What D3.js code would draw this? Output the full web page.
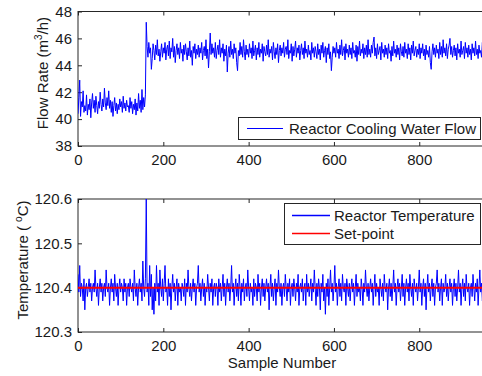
<!DOCTYPE html>
<html>
<head>
<meta charset="utf-8">
<script src="https://cdn.jsdelivr.net/npm/d3@7"></script>
<style>
  html, body { margin: 0; padding: 0; background: #fff; }
  svg { display: block; font-family: "Liberation Sans", Arial, Helvetica, sans-serif; }
  .axis text { font-size: 15px; fill: #1a1a1a; }
  .axis path, .axis line { stroke: #262626; }
</style>
</head>
<body>
<svg id="chart" width="482" height="376"></svg>
<script>
// Sampling interval of the stored series (sample number = index * sampleStep)
const sampleStep = 2;
const sampleRange = [0, 960];
const xTicks = [0, 200, 400, 600, 800];

// Reactor cooling water flow (m^3/h)
const coolingFlow = [
  40.4, 41.6, 42.9, 40.2, 41.3, 40.9, 42.1, 40.5, 41.0, 40.6,
  41.8, 40.3, 41.1, 40.7, 41.5, 40.1, 41.2, 41.9, 40.8, 41.4,
  40.5, 41.7, 41.0, 40.4, 41.3, 40.8, 42.0, 41.1, 40.6, 41.5,
  40.9, 42.3, 41.2, 40.7, 41.6, 41.0, 42.1, 40.8, 41.4, 40.5,
  41.3, 40.2, 41.0, 41.6, 40.6, 41.2, 40.4, 41.1, 40.7, 41.5,
  40.9, 41.3, 40.5, 41.7, 40.8, 41.2, 40.6, 41.4, 40.9, 41.0,
  40.5, 41.6, 40.8, 41.3, 40.4, 41.1, 40.7, 41.5, 40.3, 41.2,
  40.6, 41.9, 40.8, 41.4, 40.5, 42.2, 40.7, 41.6, 40.9, 41.8,
  47.2,
  45.4, 44.6, 45.7, 44.9, 45.3, 43.7, 44.5, 45.6, 45.1, 44.4, 45.5, 44.8, 45.9, 44.7, 45.2, 44.3, 45.0, 45.6, 44.6, 45.3,
  44.9, 45.7, 44.4, 45.2, 45.5, 44.7, 45.8, 44.5, 45.3, 45.0, 46.0, 44.6, 45.4, 44.2, 45.1, 45.6, 44.8, 45.3, 44.5, 45.7,
  44.9, 45.2, 44.3, 45.5, 44.8, 45.6, 45.0, 44.4, 45.3, 44.7, 45.8, 44.6, 45.1, 44.0, 45.4, 44.9, 45.6, 44.5, 45.2, 44.8,
  45.5, 44.6, 45.3, 44.9, 45.7, 44.4, 45.1, 45.4, 44.7, 45.9, 44.5, 45.2, 43.8, 45.0, 46.4, 44.8, 45.6, 44.9, 45.3, 44.6,
  45.7, 44.5, 45.1, 45.5, 44.8, 45.9, 44.6, 45.3, 44.9, 45.6, 44.3, 45.2, 44.7, 45.5, 43.5, 44.9, 45.4, 44.6, 45.8, 44.8,
  45.2, 44.5, 45.6, 44.9, 45.3, 44.2, 43.6, 45.1, 44.7, 45.7, 44.8, 45.4, 44.6, 45.9, 45.0, 44.4, 45.5, 44.8, 45.2, 44.6,
  45.6, 44.9, 45.3, 44.5, 45.8, 44.7, 45.1, 45.5, 44.4, 45.3, 44.8, 45.7, 44.6, 45.2, 44.9, 45.6, 44.3, 45.4, 45.0, 44.7,
  45.5, 44.8, 45.9, 44.6, 45.2, 44.9, 45.4, 44.4, 45.7, 45.0, 44.5, 45.3, 44.8, 45.6, 44.2, 45.1, 45.5, 44.7, 45.3, 44.9,
  45.7, 44.6, 45.2, 45.4, 44.8, 45.9, 44.5, 45.1, 44.9, 45.6, 44.3, 45.4, 44.7, 45.2, 45.8, 44.6, 45.3, 44.9, 45.5, 44.4,
  45.1, 45.6, 44.8, 45.3, 44.5, 45.8, 44.9, 45.2, 44.6, 45.5, 44.8, 45.1, 44.4, 45.7, 44.9, 45.3, 44.6, 45.4, 45.0, 44.5,
  45.6, 44.8, 45.2, 44.4, 45.5, 44.9, 45.7, 44.6, 45.1, 45.4, 44.2, 45.3, 44.8, 45.6, 44.5, 45.0, 43.6, 44.6, 45.4, 44.9,
  45.3, 44.6, 45.7, 44.9, 45.2, 44.5, 45.5, 44.8, 45.9, 44.7, 45.1, 45.4, 44.4, 45.6, 44.9, 45.2, 44.6, 45.5, 44.8, 45.3,
  44.5, 45.7, 44.9, 45.1, 44.6, 45.5, 44.3, 45.4, 44.8, 45.8, 44.7, 45.2, 44.9, 45.6, 44.5, 45.3, 44.8, 45.5, 44.6, 45.9,
  44.8, 45.2, 44.6, 45.5, 44.9, 45.7, 46.1, 44.7, 45.3, 44.5, 45.6, 44.8, 45.1, 45.4, 44.4, 45.7, 44.9, 45.2, 44.6, 45.5,
  44.8, 45.3, 44.5, 45.6, 44.9, 45.1, 44.3, 45.4, 44.7, 45.8, 44.9, 45.2, 44.6, 45.5, 44.8, 45.3, 44.4, 45.6, 45.0, 44.7,
  45.4, 44.6, 45.7, 44.9, 45.2, 44.5, 45.6, 44.8, 45.3, 44.4, 45.5, 44.9, 45.8, 44.7, 45.1, 45.4, 44.6, 45.2, 44.8, 45.6,
  44.5, 45.3, 44.9, 45.6, 44.7, 45.2, 44.4, 45.5, 44.8, 45.1, 44.6, 45.4, 44.2, 43.7, 45.0, 45.6, 44.8, 45.3, 44.6, 45.5,
  44.9, 45.2, 44.5, 45.7, 44.8, 45.4, 44.6, 45.9, 44.9, 45.3, 44.7, 45.6, 44.5, 45.2, 45.5, 46.0, 44.8, 45.4, 44.6, 45.1,
  45.5, 44.7, 45.3, 44.4, 45.6, 44.9, 45.2, 44.6, 45.8, 44.8, 45.1, 45.4, 44.5, 45.7, 44.9, 45.3, 44.6, 45.5, 44.8, 45.2,
  44.4, 45.6, 44.9, 45.3, 44.7, 45.8, 44.8, 45.2, 44.5, 45.5, 44.9, 45.1, 44.6, 45.7, 44.8, 45.3, 44.5, 45.4, 44.9, 45.0
];
const flowTicks = [38, 40, 42, 44, 46, 48];

// Reactor temperature (deg C) and its set-point
const reactorTemp = [
  120.43, 120.39, 120.45, 120.38, 120.41, 120.40, 120.37, 120.42, 120.35, 120.40, 120.41, 120.38, 120.40, 120.42, 120.39, 120.41, 120.37, 120.40, 120.41, 120.39,
  120.44, 120.40, 120.38, 120.41, 120.36, 120.40, 120.42, 120.39, 120.41, 120.37, 120.40, 120.41, 120.38, 120.44, 120.40, 120.39, 120.41, 120.36, 120.40, 120.42,
  120.39, 120.41, 120.37, 120.43, 120.40, 120.38, 120.41, 120.36, 120.40, 120.42, 120.39, 120.41, 120.40, 120.37, 120.42, 120.39, 120.41, 120.36, 120.40, 120.41,
  120.38, 120.42, 120.40, 120.39, 120.41, 120.37, 120.44, 120.40, 120.38, 120.41, 120.36, 120.40, 120.42, 120.39, 120.41, 120.37, 120.46, 120.40, 120.38, 120.42,
  120.60,
  120.39, 120.41, 120.36, 120.45, 120.38, 120.43, 120.35, 120.40, 120.34, 120.41, 120.37, 120.45, 120.39, 120.41, 120.36, 120.44, 120.40, 120.38, 120.42, 120.37,
  120.41, 120.45, 120.39, 120.40, 120.36, 120.42, 120.38, 120.41, 120.35, 120.40, 120.43, 120.39, 120.41, 120.37, 120.40, 120.42, 120.36, 120.41, 120.39, 120.40,
  120.37, 120.41, 120.40, 120.38, 120.42, 120.36, 120.41, 120.39, 120.44, 120.40, 120.38, 120.41, 120.37, 120.40, 120.42, 120.39, 120.41, 120.36, 120.40, 120.41,
  120.45, 120.39, 120.41, 120.37, 120.40, 120.42, 120.38, 120.41, 120.36, 120.40, 120.39, 120.43, 120.40, 120.37, 120.41, 120.39, 120.42, 120.36, 120.40, 120.41,
  120.38, 120.41, 120.40, 120.36, 120.42, 120.39, 120.41, 120.37, 120.40, 120.43, 120.38, 120.41, 120.36, 120.40, 120.42, 120.39, 120.41, 120.37, 120.40, 120.45,
  120.39, 120.41, 120.36, 120.40, 120.42, 120.38, 120.41, 120.37, 120.43, 120.40, 120.36, 120.41, 120.39, 120.42, 120.37, 120.40, 120.41, 120.38, 120.44, 120.40,
  120.37, 120.41, 120.39, 120.40, 120.36, 120.42, 120.38, 120.41, 120.40, 120.37, 120.43, 120.39, 120.41, 120.36, 120.40, 120.42, 120.38, 120.41, 120.37, 120.40,
  120.42, 120.39, 120.41, 120.35, 120.40, 120.43, 120.38, 120.41, 120.37, 120.40, 120.42, 120.36, 120.41, 120.39, 120.44, 120.40, 120.38, 120.41, 120.36, 120.40,
  120.41, 120.38, 120.43, 120.40, 120.37, 120.41, 120.39, 120.42, 120.36, 120.40, 120.41, 120.38, 120.42, 120.40, 120.37, 120.41, 120.39, 120.43, 120.36, 120.40,
  120.41, 120.39, 120.42, 120.37, 120.40, 120.41, 120.36, 120.43, 120.39, 120.41, 120.38, 120.40, 120.42, 120.37, 120.41, 120.39, 120.44, 120.40, 120.36, 120.41,
  120.38, 120.42, 120.40, 120.35, 120.41, 120.39, 120.43, 120.37, 120.40, 120.34, 120.41, 120.38, 120.42, 120.36, 120.40, 120.44, 120.39, 120.41, 120.37, 120.40,
  120.45, 120.39, 120.41, 120.36, 120.40, 120.42, 120.38, 120.41, 120.37, 120.43, 120.40, 120.39, 120.41, 120.36, 120.42, 120.40, 120.38, 120.41, 120.37, 120.40,
  120.42, 120.39, 120.41, 120.36, 120.40, 120.43, 120.38, 120.41, 120.39, 120.40, 120.37, 120.42, 120.40, 120.36, 120.41, 120.39, 120.44, 120.40, 120.38, 120.41,
  120.37, 120.40, 120.42, 120.39, 120.41, 120.36, 120.40, 120.43, 120.38, 120.41, 120.39, 120.40, 120.36, 120.42, 120.40, 120.38, 120.41, 120.37, 120.43, 120.40,
  120.39, 120.41, 120.35, 120.40, 120.42, 120.38, 120.41, 120.37, 120.40, 120.44, 120.39, 120.41, 120.36, 120.40, 120.42, 120.39, 120.41, 120.37, 120.40, 120.43,
  120.38, 120.41, 120.36, 120.40, 120.42, 120.39, 120.41, 120.37, 120.43, 120.40, 120.38, 120.41, 120.36, 120.42, 120.40, 120.39, 120.41, 120.37, 120.40, 120.44,
  120.39, 120.41, 120.36, 120.40, 120.42, 120.38, 120.41, 120.35, 120.40, 120.43, 120.39, 120.41, 120.37, 120.40, 120.42, 120.38, 120.41, 120.36, 120.40, 120.41,
  120.44, 120.39, 120.41, 120.37, 120.40, 120.42, 120.36, 120.41, 120.39, 120.40, 120.43, 120.38, 120.41, 120.37, 120.40, 120.42, 120.39, 120.41, 120.36, 120.40,
  120.42, 120.38, 120.41, 120.37, 120.40, 120.44, 120.39, 120.41, 120.36, 120.40, 120.42, 120.38, 120.41, 120.37, 120.43, 120.40, 120.39, 120.41, 120.36, 120.40,
  120.41, 120.38, 120.43, 120.40, 120.37, 120.41, 120.39, 120.42, 120.36, 120.40, 120.44, 120.39, 120.41, 120.37, 120.40, 120.42, 120.38, 120.41, 120.39, 120.40
];
const setPoint = [120.4, 120.4];
const tempTicks = [120.3, 120.4, 120.5, 120.6];

const seriesBlue = "#0000ff";
const seriesRed = "#ff0000";

const svg = d3.select("#chart");
svg.append("rect").attr("width", 482).attr("height", 376).attr("fill", "#fff");

const left = 78, right = 487.5;
const x = d3.scaleLinear().domain(sampleRange).range([left, right]);

function drawPanel(opts) {
  const { top, bottom, yDomain, yTicks, yFormat, id } = opts;
  const y = d3.scaleLinear().domain(yDomain).range([bottom, top]);
  const g = svg.append("g");

  g.append("clipPath").attr("id", id)
    .append("rect").attr("x", left).attr("y", top - 0.5)
    .attr("width", right - left).attr("height", bottom - top + 1);

  // inward ticks on all four sides, labels on left and bottom
  g.append("g").attr("class", "axis")
    .attr("transform", `translate(0,${bottom})`)
    .call(d3.axisBottom(x).tickValues(xTicks).tickSize(-4).tickSizeOuter(0).tickPadding(8).tickFormat(d3.format("d")))
    .call(a => a.select(".domain").remove());
  g.append("g").attr("class", "axis")
    .attr("transform", `translate(0,${top})`)
    .call(d3.axisTop(x).tickValues(xTicks).tickSize(-4).tickSizeOuter(0).tickFormat(""))
    .call(a => a.select(".domain").remove());
  g.append("g").attr("class", "axis")
    .attr("transform", `translate(${left},0)`)
    .call(d3.axisLeft(y).tickValues(yTicks).tickSize(-4).tickSizeOuter(0).tickPadding(6).tickFormat(yFormat))
    .call(a => a.select(".domain").remove());

  g.append("rect")
    .attr("x", left).attr("y", top)
    .attr("width", right - left).attr("height", bottom - top)
    .attr("fill", "none").attr("stroke", "#262626").attr("stroke-width", 1);

  const plot = g.append("g").attr("clip-path", `url(#${id})`);
  return { g, plot, y };
}

// ---- top panel: cooling water flow ----
const p1 = drawPanel({ top: 11.5, bottom: 146, yDomain: [38, 48], yTicks: flowTicks, yFormat: d3.format("d"), id: "clipFlow" });
const flowLine = d3.line().x((d, i) => x(i * sampleStep)).y(d => p1.y(d));
p1.plot.append("path").datum(coolingFlow)
  .attr("d", flowLine).attr("fill", "none")
  .attr("stroke", seriesBlue).attr("stroke-width", 1).attr("stroke-linejoin", "round");

const yl1 = svg.append("text")
  .attr("transform", "translate(48,73) rotate(-90)")
  .attr("text-anchor", "middle").attr("font-size", 15).attr("fill", "#1a1a1a");
yl1.append("tspan").text("Flow Rate (m");
yl1.append("tspan").attr("font-size", 10).attr("dy", -6).text("3");
yl1.append("tspan").attr("dy", 6).text("/h)");

// legend
const lg1 = svg.append("g");
lg1.append("rect").attr("x", 238.5).attr("y", 117.5).attr("width", 242).attr("height", 22)
  .attr("fill", "#fff").attr("stroke", "#262626");
lg1.append("line").attr("x1", 247).attr("x2", 283).attr("y1", 128.5).attr("y2", 128.5)
  .attr("stroke", seriesBlue).attr("stroke-width", 1.2);
lg1.append("text").attr("x", 289).attr("y", 134).attr("font-size", 15).attr("fill", "#1a1a1a")
  .text("Reactor Cooling Water Flow");

// ---- bottom panel: reactor temperature ----
const p2 = drawPanel({ top: 199, bottom: 332, yDomain: [120.3, 120.6], yTicks: tempTicks, yFormat: d3.format(".1f"), id: "clipTemp" });
const tempLine = d3.line().x((d, i) => x(i * sampleStep)).y(d => p2.y(d));
p2.plot.append("path").datum(reactorTemp)
  .attr("d", tempLine).attr("fill", "none")
  .attr("stroke", seriesBlue).attr("stroke-width", 1).attr("stroke-linejoin", "round");
const spLine = d3.line().x((d, i) => x(sampleRange[i])).y(d => p2.y(d));
p2.plot.append("path").datum(setPoint)
  .attr("d", spLine).attr("fill", "none")
  .attr("stroke", seriesRed).attr("stroke-width", 2);

const yl2 = svg.append("text")
  .attr("transform", "translate(28,260) rotate(-90)")
  .attr("text-anchor", "middle").attr("font-size", 15).attr("fill", "#1a1a1a");
yl2.append("tspan").text("Temperature ( ");
yl2.append("tspan").attr("font-size", 10).attr("dy", -6).text("o");
yl2.append("tspan").attr("dy", 6).text("C)");

svg.append("text").attr("x", 282).attr("y", 368).attr("text-anchor", "middle")
  .attr("font-size", 15).attr("fill", "#1a1a1a").text("Sample Number");

// legend
const lg2 = svg.append("g");
lg2.append("rect").attr("x", 284.5).attr("y", 203.5).attr("width", 196).attr("height", 41)
  .attr("fill", "#fff").attr("stroke", "#262626");
lg2.append("line").attr("x1", 292).attr("x2", 330).attr("y1", 215.5).attr("y2", 215.5)
  .attr("stroke", seriesBlue).attr("stroke-width", 1.5);
lg2.append("text").attr("x", 334).attr("y", 221).attr("font-size", 15).attr("fill", "#1a1a1a")
  .text("Reactor Temperature");
lg2.append("line").attr("x1", 292).attr("x2", 330).attr("y1", 233.5).attr("y2", 233.5)
  .attr("stroke", seriesRed).attr("stroke-width", 1.5);
lg2.append("text").attr("x", 334).attr("y", 239).attr("font-size", 15).attr("fill", "#1a1a1a")
  .text("Set-point");
</script>
</body>
</html>
